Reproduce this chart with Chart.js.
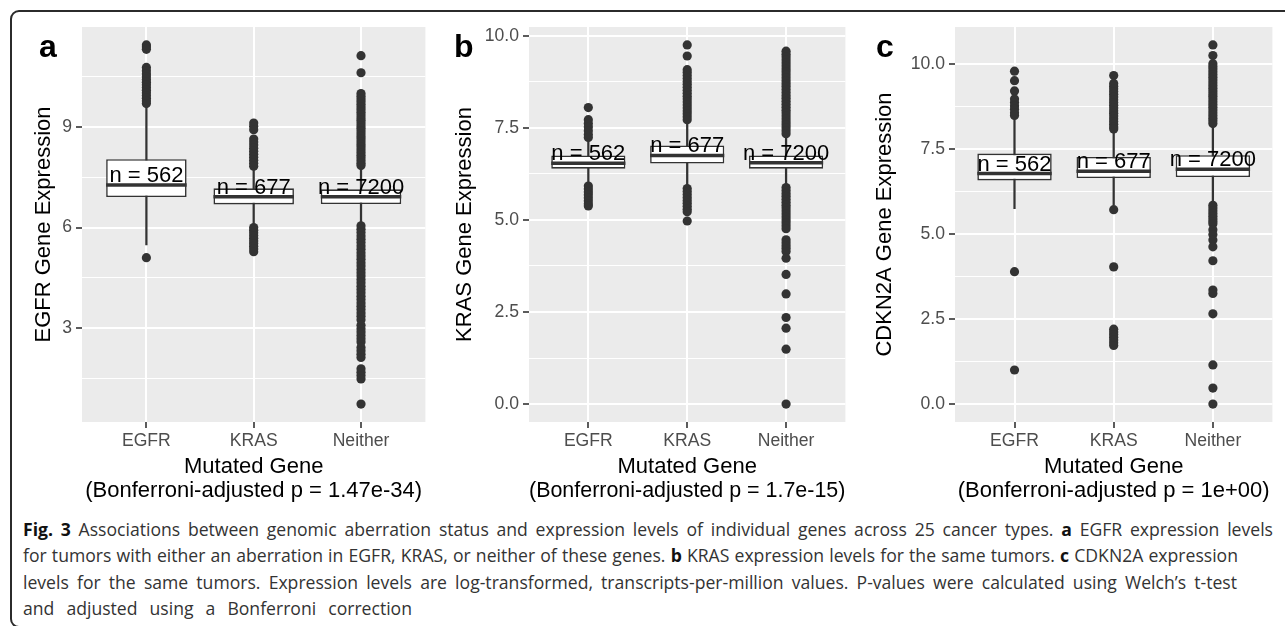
<!DOCTYPE html>
<html>
<head>
<meta charset="utf-8">
<script src="https://cdn.jsdelivr.net/npm/chart.js@4.4.1/dist/chart.umd.min.js"></script>
<style>
  body { margin: 0; background: #fff; width: 1285px; height: 626px; overflow: hidden; position: relative; font-family: "Liberation Sans", Arial, sans-serif; }
  .frame { position: absolute; left: 10px; top: 10px; width: 1320px; height: 614px; border: 2px solid #2b2b2b; border-radius: 9px; }
  canvas { position: absolute; }
  .tag { position: absolute; font: bold 32px "Liberation Sans", Arial, sans-serif; line-height: 32px; color: #000; }
  .cap { position: absolute; left: 23px; font-family: "Open Sans", sans-serif; font-size: 17.6px; line-height: 18.5px; color: #333; white-space: nowrap; text-align: justify; text-align-last: justify; }
  .cap b { color: #111; }
</style>
</head>
<body>
<div class="frame"></div>
<canvas id="panelA" width="418" height="493" style="left:12px;top:12px"></canvas>
<canvas id="panelB" width="410" height="493" style="left:440px;top:12px"></canvas>
<canvas id="panelC" width="411" height="493" style="left:866px;top:12px"></canvas>
<div class="tag" style="left:39px;top:30px">a</div>
<div class="tag" style="left:454px;top:30px">b</div>
<div class="tag" style="left:876px;top:30px">c</div>
<div class="cap" style="top:520px;width:1250px"><b>Fig. 3</b> Associations between genomic aberration status and expression levels of individual genes across 25 cancer types. <b>a</b> EGFR expression levels</div>
<div class="cap" style="top:546px;width:1215px">for tumors with either an aberration in EGFR, KRAS, or neither of these genes. <b>b</b> KRAS expression levels for the same tumors. <b>c</b> CDKN2A expression</div>
<div class="cap" style="top:573px;width:1214px">levels for the same tumors. Expression levels are log-transformed, transcripts-per-million values. P-values were calculated using Welch’s t-test</div>
<div class="cap" style="top:599px;width:389px">and adjusted using a Bonferroni correction</div>
<script>
const categories = ['EGFR', 'KRAS', 'Neither'];
const counts = [562, 677, 7200];

// a: EGFR expression
const egfrQ1 = [6.91, 6.69, 6.70];
const egfrMedian = [7.27, 6.92, 6.92];
const egfrQ3 = [8.04, 7.17, 7.14];
const egfrWhiskerLow = [5.48, 6.10, 6.13];
const egfrWhiskerHigh = [9.62, 7.75, 7.77];
const egfrOutEGFR = [11.45, 11.39, 11.32, 10.78, 10.68, 10.58, 10.5, 10.42, 10.34, 10.26, 10.18, 10.1, 10.02, 9.94, 9.86, 9.78, 9.7, 5.1];
const egfrOutKRAS = [9.12, 9.02, 8.92, 8.64, 8.55, 8.46, 8.37, 8.28, 8.19, 8.1, 8.01, 7.92, 7.83,
  6.0, 5.92, 5.84, 5.76, 5.68, 5.6, 5.52, 5.44, 5.36, 5.28];
const egfrOutNeither = [11.13, 10.62, 10.0, 9.92, 9.84, 9.76, 9.68, 9.6, 9.52, 9.44, 9.36, 9.28, 9.2, 9.12, 9.04,
  8.96, 8.88, 8.8, 8.72, 8.64, 8.56, 8.48, 8.4, 8.32, 8.24, 8.16, 8.08, 8.0, 7.92, 7.85,
  6.05, 5.95, 5.85, 5.75, 5.65, 5.55, 5.45, 5.35, 5.25, 5.15, 5.05, 4.95, 4.85, 4.75, 4.65, 4.55,
  4.45, 4.35, 4.25, 4.15, 4.05, 3.95, 3.85, 3.75, 3.65, 3.55, 3.45, 3.35, 3.25,
  3.08, 2.98, 2.88, 2.78, 2.68, 2.58, 2.42, 2.32, 2.22, 2.12, 1.78, 1.68, 1.58, 1.48, 0.73];
const egfrTicks = [3, 6, 9];
const egfrMinorTicks = [1.5, 4.5, 7.5, 10.5];

// b: KRAS expression
const krasQ1 = [6.39, 6.53, 6.39];
const krasMedian = [6.54, 6.75, 6.55];
const krasQ3 = [6.75, 7.02, 6.75];
const krasWhiskerLow = [6.0, 5.9, 5.94];
const krasWhiskerHigh = [7.2, 7.65, 7.25];
const krasOutEGFR = [8.05, 7.72, 7.62, 7.52, 7.42, 7.32, 7.24,
  5.92, 5.84, 5.76, 5.68, 5.6, 5.52, 5.44, 5.38];
const krasOutKRAS = [9.75, 9.45, 9.08, 9.0, 8.92, 8.84, 8.76, 8.68, 8.6, 8.52, 8.44, 8.36, 8.28, 8.2, 8.12,
  8.04, 7.96, 7.88, 7.8, 7.72,
  5.85, 5.77, 5.69, 5.61, 5.53, 5.45, 5.37, 5.29, 5.22, 4.97];
const krasOutNeither = [9.58, 9.5, 9.42, 9.34, 9.26, 9.18, 9.1, 9.02, 8.94, 8.86, 8.78, 8.7, 8.62, 8.54,
  8.46, 8.38, 8.3, 8.22, 8.14, 8.06, 7.98, 7.9, 7.82, 7.74, 7.66, 7.58, 7.5, 7.42, 7.34,
  5.88, 5.8, 5.72, 5.64, 5.56, 5.48, 5.4, 5.32, 5.24, 5.16, 5.08, 5.0, 4.92, 4.84, 4.76,
  4.46, 4.38, 4.3, 4.22, 4.14, 3.96, 3.52, 2.99, 2.35, 2.06, 1.49, 0];
const krasTicks = [0, 2.5, 5, 7.5, 10];
const krasMinorTicks = [1.25, 3.75, 6.25, 8.75];

// c: CDKN2A expression
const cdkn2aQ1 = [6.57, 6.64, 6.67];
const cdkn2aMedian = [6.77, 6.84, 6.9];
const cdkn2aQ3 = [7.36, 7.26, 7.31];
const cdkn2aWhiskerLow = [5.74, 5.85, 5.89];
const cdkn2aWhiskerHigh = [8.4, 8.02, 8.14];
const cdkn2aOutEGFR = [9.78, 9.5, 9.2, 8.96, 8.86, 8.76, 8.66, 8.56, 8.48, 3.89, 1.0];
const cdkn2aOutKRAS = [9.65, 9.42, 9.34, 9.26, 9.18, 9.1, 9.02, 8.94, 8.86, 8.78, 8.7, 8.62, 8.54, 8.46,
  8.38, 8.3, 8.22, 8.14, 8.08, 5.71, 4.03, 2.2, 2.12, 2.04, 1.96, 1.88, 1.8, 1.72];
const cdkn2aOutNeither = [10.55, 10.24, 10.0, 9.92, 9.84, 9.76, 9.68, 9.6, 9.52, 9.44, 9.36, 9.28, 9.2,
  9.12, 9.04, 8.96, 8.88, 8.8, 8.72, 8.64, 8.56, 8.48, 8.4, 8.32, 8.24,
  5.84, 5.76, 5.68, 5.6, 5.52, 5.44, 5.36, 5.3, 5.12, 4.98, 4.82, 4.62, 4.21, 3.35, 3.25, 2.65, 1.15, 0.47, 0];
const cdkn2aTicks = [0, 2.5, 5, 7.5, 10];
const cdkn2aMinorTicks = [1.25, 3.75, 6.25, 8.75];

const FONT = '"Liberation Sans", Arial, sans-serif';
const DARK = '#333333';

// panel background, median bars and "n = ..." text
const boxExtras = {
  id: 'boxExtras',
  beforeDraw(chart) {
    const a = chart.chartArea, ctx = chart.ctx;
    ctx.save();
    ctx.fillStyle = '#ebebeb';
    ctx.fillRect(a.left, a.top, a.right - a.left, a.bottom - a.top);
    ctx.restore();
  },
  afterDatasetsDraw(chart, args, opts) {
    const ctx = chart.ctx, y = chart.scales.y;
    const bars = chart.getDatasetMeta(0).data;
    ctx.save();
    bars.forEach((bar, i) => {
      const {x, width} = bar.getProps(['x', 'width'], true);
      const py = y.getPixelForValue(opts.median[i]);
      ctx.strokeStyle = DARK;
      ctx.lineWidth = 3.5;
      ctx.beginPath();
      ctx.moveTo(x - width / 2, py);
      ctx.lineTo(x + width / 2, py);
      ctx.stroke();
      ctx.fillStyle = '#000';
      ctx.font = '22px ' + FONT;
      ctx.textAlign = 'center';
      ctx.textBaseline = 'alphabetic';
      ctx.fillText('n = ' + counts[i], x, py - 3);
    });
    ctx.restore();
  }
};

function boxPanel(id, p) {
  const outliers = [p.outEGFR, p.outKRAS, p.outNeither];
  const all = [].concat(...outliers, p.lo, p.hi);
  const lo = Math.min(...all), hi = Math.max(...all);
  const pad = (hi - lo) * 0.05;
  const points = [];
  outliers.forEach((arr, i) => arr.forEach(v => points.push({x: i + 1, y: v})));
  const isMajor = v => p.ticks.some(t => Math.abs(t - v) < 1e-9);

  new Chart(document.getElementById(id), {
    type: 'bar',
    data: {
      datasets: [
        {
          label: 'box',
          data: categories.map((c, i) => ({x: i + 1, y: [p.q1[i], p.q3[i]]})),
          backgroundColor: '#ffffff',
          borderColor: DARK,
          borderWidth: 1.6,
          borderSkipped: false,
          grouped: false,
          barPercentage: 0.75,
          categoryPercentage: 1,
          order: 1
        },
        {
          label: 'whisker',
          data: categories.map((c, i) => ({x: i + 1, y: [p.lo[i], p.hi[i]]})),
          backgroundColor: DARK,
          barThickness: 1.6,
          grouped: false,
          order: 2
        },
        {
          type: 'scatter',
          label: 'outliers',
          data: points,
          backgroundColor: DARK,
          borderWidth: 0,
          pointRadius: 4.6,
          order: 3
        }
      ]
    },
    options: {
      responsive: false,
      animation: false,
      devicePixelRatio: 1,
      layout: {padding: {top: 15, right: 2, left: 0, bottom: 0}},
      plugins: {
        legend: {display: false},
        tooltip: {enabled: false},
        boxExtras: {median: p.med}
      },
      scales: {
        x: {
          type: 'linear',
          min: 0.4,
          max: 3.6,
          offset: false,
          afterBuildTicks: s => { s.ticks = categories.map((c, i) => ({value: i + 1})); },
          afterFit: s => { s.height = 83; },
          ticks: {
            callback: v => categories[Math.round(v) - 1],
            color: '#4d4d4d',
            font: {family: FONT, size: 17.6},
            padding: 3,
            autoSkip: false,
            maxRotation: 0
          },
          grid: {offset: false, color: '#ffffff', lineWidth: 2, tickColor: DARK, tickLength: 6, tickWidth: 1.6},
          border: {display: false},
          title: {
            display: true,
            text: ['Mutated Gene', p.xTitle],
            color: '#000',
            font: {family: FONT, size: 22, lineHeight: 1.05},
            padding: {top: 2, bottom: 3}
          }
        },
        y: {
          type: 'linear',
          min: lo - pad,
          max: hi + pad,
          afterBuildTicks: s => {
            s.ticks = p.ticks.concat(p.minor)
              .filter(v => v >= s.min && v <= s.max)
              .sort((a, b) => a - b)
              .map(v => ({value: v}));
          },
          afterFit: s => { s.width = p.axisWidth; },
          ticks: {
            callback: v => isMajor(v) ? v.toFixed(p.decimals) : '',
            color: '#4d4d4d',
            font: {family: FONT, size: 17.6},
            padding: 4,
            autoSkip: false
          },
          grid: {
            color: '#ffffff',
            lineWidth: ctx => isMajor(ctx.tick.value) ? 2 : 1,
            tickColor: ctx => isMajor(ctx.tick.value) ? DARK : 'rgba(0,0,0,0)',
            tickLength: 6,
            tickWidth: 1.6
          },
          border: {display: false},
          title: {
            display: true,
            text: p.yTitle,
            color: '#000',
            font: {family: FONT, size: 22, lineHeight: 1.05},
            padding: {top: p.titlePad, bottom: 0}
          }
        }
      }
    },
    plugins: [boxExtras]
  });
}

boxPanel('panelA', {
  q1: egfrQ1, med: egfrMedian, q3: egfrQ3, lo: egfrWhiskerLow, hi: egfrWhiskerHigh,
  outEGFR: egfrOutEGFR, outKRAS: egfrOutKRAS, outNeither: egfrOutNeither,
  ticks: egfrTicks, minor: egfrMinorTicks, decimals: 0,
  yTitle: 'EGFR Gene Expression', xTitle: '(Bonferroni-adjusted p = 1.47e-34)',
  axisWidth: 70, titlePad: 20.8
});
boxPanel('panelB', {
  q1: krasQ1, med: krasMedian, q3: krasQ3, lo: krasWhiskerLow, hi: krasWhiskerHigh,
  outEGFR: krasOutEGFR, outKRAS: krasOutKRAS, outNeither: krasOutNeither,
  ticks: krasTicks, minor: krasMinorTicks, decimals: 1,
  yTitle: 'KRAS Gene Expression', xTitle: '(Bonferroni-adjusted p = 1.7e-15)',
  axisWidth: 89, titlePad: 13.8
});
boxPanel('panelC', {
  q1: cdkn2aQ1, med: cdkn2aMedian, q3: cdkn2aQ3, lo: cdkn2aWhiskerLow, hi: cdkn2aWhiskerHigh,
  outEGFR: cdkn2aOutEGFR, outKRAS: cdkn2aOutKRAS, outNeither: cdkn2aOutNeither,
  ticks: cdkn2aTicks, minor: cdkn2aMinorTicks, decimals: 1,
  yTitle: 'CDKN2A Gene Expression', xTitle: '(Bonferroni-adjusted p = 1e+00)',
  axisWidth: 89, titlePad: 7.4
});
</script>
</body>
</html>
